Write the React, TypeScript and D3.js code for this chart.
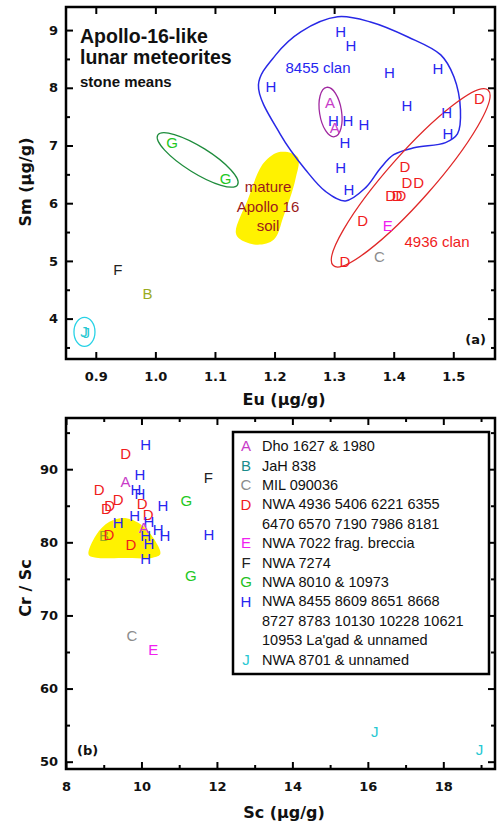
import React, { useEffect, useRef } from 'react';
import * as d3 from 'd3';

const W = 498;
const H = 822;
const FONT = '"Liberation Sans", Arial, Helvetica, sans-serif';
const AXFONT = '"DejaVu Sans", Verdana, sans-serif';

// panel (a) stone means: Eu vs Sm
const aLetters = ['H', 'H', 'H', 'H', 'H', 'A', 'H', 'H', 'D', 'H', 'A', 'H', 'H', 'H', 'H', 'H', 'H',
  'D', 'D', 'D', 'D', 'D', 'D', 'D', 'E', 'D', 'C', 'G', 'G', 'F', 'B', 'J', 'J'];
const aEu = [1.311, 1.328, 1.393, 1.474, 1.194, 1.293, 1.422, 1.489, 1.544, 1.299, 1.301, 1.323, 1.35, 1.491, 1.318, 1.311, 1.325,
  1.419, 1.422, 1.442, 1.395, 1.406, 1.412, 1.348, 1.39, 1.318, 1.376, 1.028, 1.118, 0.937, 0.987, 0.880, 0.884];
const aSm = [8.97, 8.73, 8.26, 8.33, 8.02, 7.74, 7.69, 7.57, 7.81, 7.43, 7.31, 7.43, 7.36, 7.2, 7.05, 6.61, 6.23,
  6.63, 6.35, 6.35, 6.13, 6.13, 6.13, 5.7, 5.61, 4.99, 5.07, 7.05, 6.42, 4.85, 4.43, 3.77, 3.75];

// panel (b): Sc vs Cr/Sc
const bLetters = ['H', 'D', 'H', 'F', 'A', 'D', 'H', 'H', 'D', 'D', 'D', 'D', 'H', 'G', 'D', 'H', 'H', 'H', 'A',
  'H', 'H', 'H', 'H', 'B', 'D', 'D', 'H', 'H', 'G', 'C', 'E', 'J', 'J'];
const bSc = [10.11, 9.58, 9.96, 11.77, 9.58, 8.88, 9.85, 9.96, 9.38, 9.16, 9.07, 10.02, 10.57, 11.19, 10.18, 9.82, 9.38, 10.2, 10.06,
  10.44, 10.62, 10.11, 11.79, 9.01, 9.14, 9.72, 10.2, 10.11, 11.31, 9.75, 10.31, 16.18, 18.96];
const bCrSc = [93.3, 92.2, 89.2, 88.9, 88.3, 87.25, 87.15, 86.7, 85.9, 85.0, 84.65, 85.25, 85.0, 85.65, 83.75, 83.65, 82.75, 82.8, 82.05,
  81.8, 80.9, 80.85, 81.0, 80.85, 81.0, 79.65, 79.85, 77.8, 75.45, 67.2, 65.35, 54.1, 51.7];

// mature Apollo 16 soil field
const soilEu = [1.135, 1.155, 1.182, 1.21, 1.239, 1.235, 1.215, 1.199, 1.172, 1.143];
const soilSm = [5.49, 6.06, 6.7, 6.89, 6.8, 6.41, 5.77, 5.37, 5.28, 5.37];
const soilSc = [8.6, 8.8, 9.15, 9.6, 10.05, 10.35, 10.5, 10.3, 9.5, 8.8];
const soilCrSc = [78.3, 81.0, 82.8, 83.3, 82.2, 80.3, 78.4, 77.9, 77.85, 77.9];

// 8455 clan outline
const clanEu = [1.173, 1.202, 1.244, 1.306, 1.361, 1.424, 1.479, 1.501, 1.512, 1.507, 1.487, 1.434, 1.4, 1.378, 1.353, 1.319, 1.286, 1.252, 1.21];
const clanSm = [8.05, 8.57, 8.97, 9.23, 9.14, 8.88, 8.57, 8.19, 7.62, 7.2, 7.05, 6.96, 6.84, 6.61, 6.27, 6.04, 6.2, 6.58, 7.19];

// group ellipses (centres in data units)
const ringEu = [1.4285, 1.071, 1.294, 0.881];
const ringSm = [6.44, 6.75, 7.58, 3.77];
const ringStyle = [
  { rx: 117, ry: 23, rot: -48.6, color: '#e02828' },
  { rx: 47, ry: 13, rot: 32, color: '#1e8c3c' },
  { rx: 11, ry: 25, rot: -9, color: '#a028a0' },
  { rx: 10.5, ry: 14.5, rot: 0, color: '#28d2e6' },
];

const euTicks = [0.9, 1.0, 1.1, 1.2, 1.3, 1.4, 1.5];
const smTicks = [4, 5, 6, 7, 8, 9];
const smMinor = [3.5, 4.5, 5.5, 6.5, 7.5, 8.5];
const scTicks = [8, 10, 12, 14, 16, 18];
const scMinor = [9, 11, 13, 15, 17, 19];
const crTicks = [50, 60, 70, 80, 90];
const crMinor = [55, 65, 75, 85, 95];

const legendLetters = ['A', 'B', 'C', 'D', 'E', 'F', 'G', 'H', 'J'];
const legendLabels = [
  ['Dho 1627 & 1980'],
  ['JaH 838'],
  ['MIL 090036'],
  ['NWA 4936 5406 6221 6355', '6470 6570 7190 7986 8181'],
  ['NWA 7022 frag. breccia'],
  ['NWA 7274'],
  ['NWA 8010 & 10973'],
  ['NWA 8455 8609 8651 8668', '8727 8783 10130 10228 10621', "10953 La'gad & unnamed"],
  ['NWA 8701 & unnamed'],
];

const colors: Record<string, string> = {
  A: '#c83cc8', B: '#9aab1e', C: '#8c8c8c', D: '#f01c1c', E: '#f020f0',
  F: '#222222', G: '#22c822', H: '#2626f0', J: '#26c8d2',
};
const legendColors: Record<string, string> = { ...colors, B: '#1a8c8c', G: '#22c022' };

type Sel = d3.Selection<SVGGElement, unknown, null, undefined>;

function drawFrame(g: Sel, x: d3.ScaleLinear<number, number>, y: d3.ScaleLinear<number, number>,
  xMajor: number[], xMinor: number[], yMajor: number[], yMinor: number[], xFmt: (d: any) => string) {
  const [l, r] = x.range();
  const [b, t] = y.range();
  const blank = () => '';
  const add = (tr: string, axis: any) => g.append('g').attr('transform', tr).call(axis);

  add(`translate(0,${b})`, d3.axisBottom(x).tickValues(xMajor).tickSize(-7).tickPadding(13).tickFormat(xFmt));
  add(`translate(0,${t})`, d3.axisTop(x).tickValues(xMajor).tickSize(-7).tickFormat(blank));
  add(`translate(${l},0)`, d3.axisLeft(y).tickValues(yMajor).tickSize(-7).tickPadding(8).tickFormat(d3.format('d')));
  add(`translate(${r},0)`, d3.axisRight(y).tickValues(yMajor).tickSize(-7).tickFormat(blank));
  if (xMinor.length) {
    add(`translate(0,${b})`, d3.axisBottom(x).tickValues(xMinor).tickSize(-4).tickFormat(blank));
    add(`translate(0,${t})`, d3.axisTop(x).tickValues(xMinor).tickSize(-4).tickFormat(blank));
  }
  add(`translate(${l},0)`, d3.axisLeft(y).tickValues(yMinor).tickSize(-4).tickFormat(blank));
  add(`translate(${r},0)`, d3.axisRight(y).tickValues(yMinor).tickSize(-4).tickFormat(blank));

  g.selectAll('.domain').remove();
  g.selectAll('.tick line').attr('stroke', '#000').attr('stroke-width', 2);
  g.selectAll('.tick text')
    .attr('fill', '#111')
    .style('font-family', AXFONT)
    .style('font-size', '13px')
    .style('font-weight', 'bold');

  g.append('rect')
    .attr('x', l).attr('y', t)
    .attr('width', r - l).attr('height', b - t)
    .attr('fill', 'none').attr('stroke', '#000').attr('stroke-width', 2.5);
}

function drawLetters(g: Sel, letters: string[], xs: number[], ys: number[],
  x: d3.ScaleLinear<number, number>, y: d3.ScaleLinear<number, number>) {
  g.append('g')
    .selectAll('text')
    .data(letters)
    .join('text')
    .attr('x', (d, i) => x(xs[i]))
    .attr('y', (d, i) => y(ys[i]))
    .attr('dy', '0.36em')
    .attr('text-anchor', 'middle')
    .attr('fill', (d) => colors[d])
    .style('font-family', FONT)
    .style('font-size', '15px')
    .text((d) => d);
}

export default function App() {
  const ref = useRef<SVGSVGElement>(null);

  useEffect(() => {
    const svg = d3.select(ref.current);
    svg.selectAll('*').remove();
    const root = svg.append('g') as Sel;

    // ---------- panel (a)
    const xa = d3.scaleLinear().domain([0.85, 1.57]).range([66, 495]);
    const ya = d3.scaleLinear().domain([3.3, 9.4]).range([359, 7]);
    const ga = root.append('g') as Sel;
    const blob = d3.line<number>().curve(d3.curveCatmullRomClosed.alpha(0.5));

    ga.append('path')
      .attr('d', blob.x((d, i) => xa(soilEu[i])).y((d, i) => ya(soilSm[i]))(soilEu))
      .attr('fill', '#fff200');

    ga.append('path')
      .attr('d', blob.x((d, i) => xa(clanEu[i])).y((d, i) => ya(clanSm[i]))(clanEu))
      .attr('fill', 'none').attr('stroke', '#2828e6').attr('stroke-width', 1.5);

    ringStyle.forEach((s, i) => {
      ga.append('ellipse')
        .attr('transform', `translate(${xa(ringEu[i])},${ya(ringSm[i])}) rotate(${s.rot})`)
        .attr('rx', s.rx).attr('ry', s.ry)
        .attr('fill', 'none').attr('stroke', s.color).attr('stroke-width', 1.3);
    });

    ['mature', 'Apollo 16', 'soil'].forEach((t, i) => {
      ga.append('text')
        .attr('x', 268).attr('y', 192 + i * 19.5)
        .attr('text-anchor', 'middle').attr('fill', '#9b1b1b')
        .style('font-family', FONT).style('font-size', '15px')
        .text(t);
    });
    ga.append('text').attr('x', 318).attr('y', 73).attr('text-anchor', 'middle')
      .attr('fill', '#2626f0').style('font-family', FONT).style('font-size', '15px').text('8455 clan');
    ga.append('text').attr('x', 437).attr('y', 247).attr('text-anchor', 'middle')
      .attr('fill', '#f01c1c').style('font-family', FONT).style('font-size', '15px').text('4936 clan');

    drawLetters(ga, aLetters, aEu, aSm, xa, ya);
    drawFrame(ga, xa, ya, euTicks, [], smTicks, smMinor, d3.format('.1f'));

    const title = ga.append('g').style('font-family', FONT).style('font-weight', 'bold').attr('fill', '#111');
    title.append('text').attr('x', 80).attr('y', 43).style('font-size', '19.5px').text('Apollo-16-like');
    title.append('text').attr('x', 80).attr('y', 64).style('font-size', '19.5px').text('lunar meteorites');
    title.append('text').attr('x', 80).attr('y', 87).style('font-size', '15px').text('stone means');
    ga.append('text').attr('x', 486).attr('y', 344).attr('text-anchor', 'end').attr('fill', '#111')
      .style('font-family', AXFONT).style('font-size', '13px').style('font-weight', 'bold').text('(a)');

    // ---------- panel (b)
    const xb = d3.scaleLinear().domain([8, 19.37]).range([66, 495]);
    const yb = d3.scaleLinear().domain([49, 97]).range([769, 418]);
    const gb = root.append('g') as Sel;

    gb.append('path')
      .attr('d', blob.x((d, i) => xb(soilSc[i])).y((d, i) => yb(soilCrSc[i]))(soilSc))
      .attr('fill', '#fff200');

    drawLetters(gb, bLetters, bSc, bCrSc, xb, yb);
    drawFrame(gb, xb, yb, scTicks, scMinor, crTicks, crMinor, d3.format('d'));
    gb.append('text').attr('x', 77).attr('y', 755)
      .attr('fill', '#111').style('font-family', AXFONT).style('font-size', '13px').style('font-weight', 'bold')
      .text('(b)');

    // legend
    const lg = gb.append('g');
    lg.append('rect').attr('x', 233).attr('y', 432).attr('width', 256).attr('height', 242)
      .attr('fill', '#fff').attr('stroke', '#000').attr('stroke-width', 2.5);
    let row = 0;
    legendLetters.forEach((k, i) => {
      const yy = 446 + row * 19.4;
      lg.append('text').attr('x', 246).attr('y', yy).attr('dy', '0.36em').attr('text-anchor', 'middle')
        .attr('fill', legendColors[k]).style('font-family', FONT).style('font-size', '15px').text(k);
      legendLabels[i].forEach((s, j) => {
        lg.append('text').attr('x', 262).attr('y', 446 + (row + j) * 19.4).attr('dy', '0.36em')
          .attr('fill', '#111').style('font-family', FONT).style('font-size', '14.5px').text(s);
      });
      row += legendLabels[i].length;
    });

    // axis titles
    const at = root.append('g').style('font-family', AXFONT).style('font-weight', 'bold')
      .style('font-size', '16px').attr('fill', '#111').attr('text-anchor', 'middle');
    at.append('text').attr('x', 284).attr('y', 405).text('Eu  (µg/g)');
    at.append('text').attr('transform', 'translate(31,182) rotate(-90)').text('Sm  (µg/g)');
    at.append('text').attr('x', 284).attr('y', 818).text('Sc  (µg/g)');
    at.append('text').attr('transform', 'translate(31,588) rotate(-90)').text('Cr / Sc');
  }, []);

  return (
    <svg ref={ref} width={W} height={H} style={{ position: 'absolute', left: 0, top: 0, background: '#fff' }} />
  );
}
